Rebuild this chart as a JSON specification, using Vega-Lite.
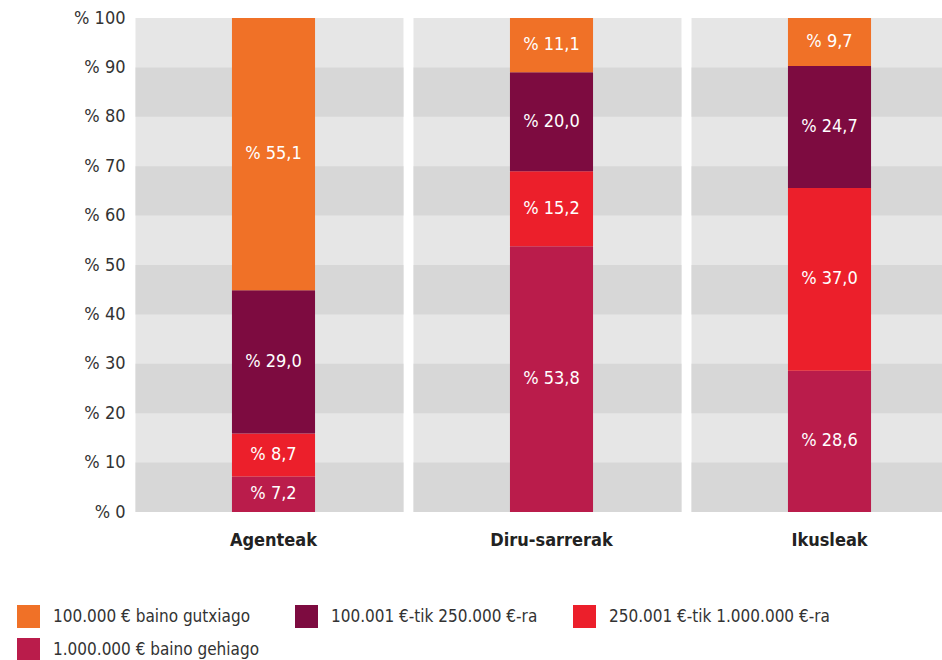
{
  "$schema": "https://vega.github.io/schema/vega-lite/v6.json",
  "width": 806,
  "height": 494,
  "autosize": "none",
  "padding": {"left": 136, "top": 18, "right": 0, "bottom": 148},
  "config": {
    "locale": {"number": {"decimal": ",", "thousands": ".", "grouping": [3], "currency": ["% ", ""]}},
    "view": {"stroke": null},
    "font": "'DejaVu Sans Condensed', 'Roboto', sans-serif"
  },
  "datasets": {
    "panels": [{"cat": "Agenteak"}, {"cat": "Diru-sarrerak"}, {"cat": "Ikusleak"}],
    "stripes": [
      {"cat": "Agenteak", "lo": 0, "hi": 10}, {"cat": "Agenteak", "lo": 20, "hi": 30}, {"cat": "Agenteak", "lo": 40, "hi": 50}, {"cat": "Agenteak", "lo": 60, "hi": 70}, {"cat": "Agenteak", "lo": 80, "hi": 90},
      {"cat": "Diru-sarrerak", "lo": 0, "hi": 10}, {"cat": "Diru-sarrerak", "lo": 20, "hi": 30}, {"cat": "Diru-sarrerak", "lo": 40, "hi": 50}, {"cat": "Diru-sarrerak", "lo": 60, "hi": 70}, {"cat": "Diru-sarrerak", "lo": 80, "hi": 90},
      {"cat": "Ikusleak", "lo": 0, "hi": 10}, {"cat": "Ikusleak", "lo": 20, "hi": 30}, {"cat": "Ikusleak", "lo": 40, "hi": 50}, {"cat": "Ikusleak", "lo": 60, "hi": 70}, {"cat": "Ikusleak", "lo": 80, "hi": 90}
    ],
    "shares": [
      {"cat": "Agenteak", "tramo": "1.000.000 € baino gehiago", "k": 1, "value": 7.2},
      {"cat": "Agenteak", "tramo": "250.001 €-tik 1.000.000 €-ra", "k": 2, "value": 8.7},
      {"cat": "Agenteak", "tramo": "100.001 €-tik 250.000 €-ra", "k": 3, "value": 29.0},
      {"cat": "Agenteak", "tramo": "100.000 € baino gutxiago", "k": 4, "value": 55.1},
      {"cat": "Diru-sarrerak", "tramo": "1.000.000 € baino gehiago", "k": 1, "value": 53.8},
      {"cat": "Diru-sarrerak", "tramo": "250.001 €-tik 1.000.000 €-ra", "k": 2, "value": 15.2},
      {"cat": "Diru-sarrerak", "tramo": "100.001 €-tik 250.000 €-ra", "k": 3, "value": 20.0},
      {"cat": "Diru-sarrerak", "tramo": "100.000 € baino gutxiago", "k": 4, "value": 11.1},
      {"cat": "Ikusleak", "tramo": "1.000.000 € baino gehiago", "k": 1, "value": 28.6},
      {"cat": "Ikusleak", "tramo": "250.001 €-tik 1.000.000 €-ra", "k": 2, "value": 37.0},
      {"cat": "Ikusleak", "tramo": "100.001 €-tik 250.000 €-ra", "k": 3, "value": 24.7},
      {"cat": "Ikusleak", "tramo": "100.000 € baino gutxiago", "k": 4, "value": 9.7}
    ]
  },
  "layer": [
    {
      "data": {"name": "panels"},
      "mark": {"type": "rect", "color": "#e6e6e6", "xOffset": -4},
      "encoding": {
        "x": {
          "field": "cat", "type": "nominal",
          "scale": {"type": "band", "domain": ["Agenteak", "Diru-sarrerak", "Ikusleak"], "range": [0, 831], "paddingInner": 0.036, "paddingOuter": 0.0126},
          "axis": {"title": null, "domain": false, "ticks": false, "labelAngle": 0, "labelFontSize": 18, "labelFontWeight": "bold", "labelColor": "#222222", "labelPadding": 19}
        },
        "y": {
          "datum": 0, "type": "quantitative",
          "scale": {"domain": [0, 100], "nice": false},
          "axis": {"title": null, "domain": false, "ticks": false, "grid": false, "values": [0, 10, 20, 30, 40, 50, 60, 70, 80, 90, 100], "format": "$d", "labelFontSize": 18, "labelColor": "#333333", "labelPadding": 11}
        },
        "y2": {"datum": 100}
      }
    },
    {
      "data": {"name": "stripes"},
      "mark": {"type": "rect", "color": "#d7d7d7", "xOffset": -4},
      "encoding": {
        "x": {"field": "cat", "type": "nominal"},
        "y": {"field": "lo", "type": "quantitative"},
        "y2": {"field": "hi"}
      }
    },
    {
      "data": {"name": "shares"},
      "mark": {"type": "bar", "width": {"band": 0.31}, "clip": true},
      "encoding": {
        "x": {"field": "cat", "type": "nominal"},
        "y": {"field": "value", "type": "quantitative", "stack": "zero"},
        "order": {"field": "k", "type": "quantitative"},
        "color": {
          "field": "tramo", "type": "nominal",
          "scale": {
            "domain": ["100.000 € baino gutxiago", "100.001 €-tik 250.000 €-ra", "250.001 €-tik 1.000.000 €-ra", "1.000.000 € baino gehiago"],
            "range": ["#f07127", "#7d0b40", "#ec1f2b", "#ba1c4b"]
          },
          "legend": {
            "orient": "none", "legendX": -119, "legendY": 587, "direction": "horizontal", "columns": 3,
            "title": null, "symbolType": "square", "symbolSize": 529, "symbolStrokeWidth": 0, "symbolOpacity": 1,
            "labelFontSize": 17, "labelColor": "#333333", "labelOffset": 13, "columnPadding": 35, "rowPadding": 10,
            "labelLimit": 400, "padding": 0
          }
        }
      }
    },
    {
      "data": {"name": "shares"},
      "mark": {"type": "text", "color": "white", "fontSize": 18, "baseline": "middle"},
      "encoding": {
        "x": {"field": "cat", "type": "nominal"},
        "y": {"field": "value", "type": "quantitative", "stack": "zero", "bandPosition": 0.5},
        "order": {"field": "k", "type": "quantitative"},
        "text": {"field": "value", "type": "quantitative", "format": "$.1f"}
      }
    }
  ]
}
